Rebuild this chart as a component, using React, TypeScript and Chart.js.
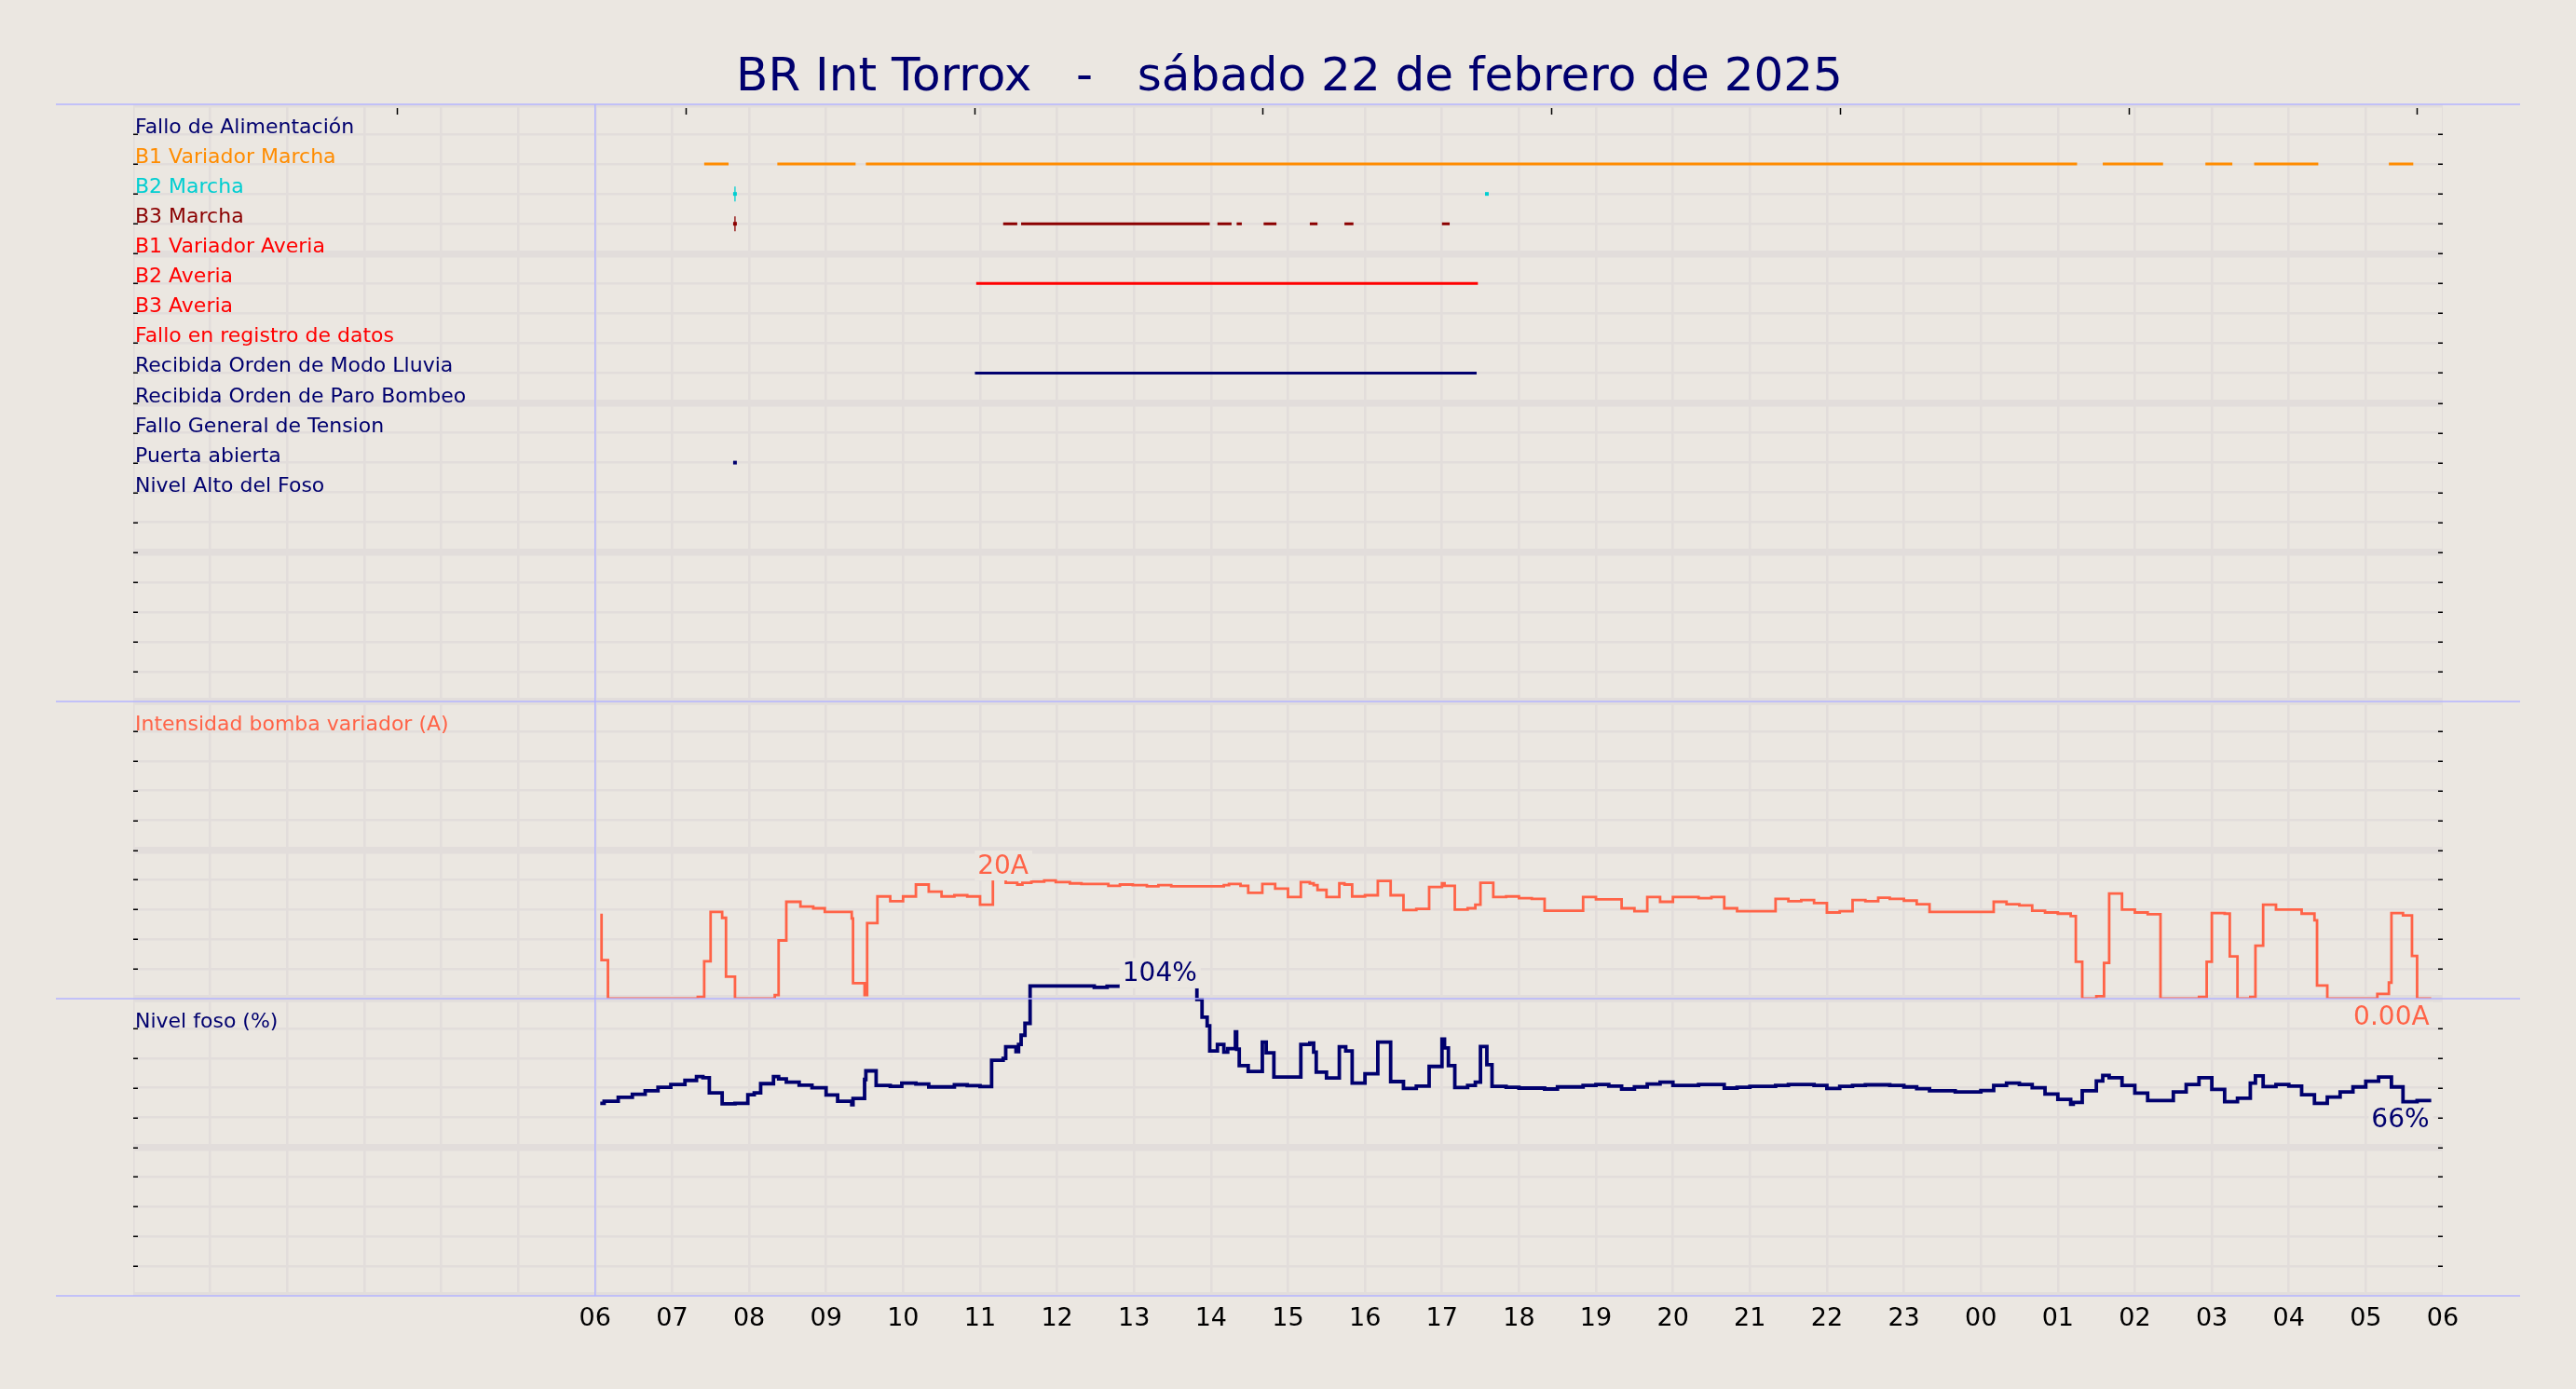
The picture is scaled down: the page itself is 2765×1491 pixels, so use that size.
import React, { useEffect, useRef } from "react";
import { Chart, registerables } from "chart.js";

Chart.register(...registerables);

const FONT = "'DejaVu Sans', 'Noto Sans', sans-serif";
const BG = "#ebe7e1";
const GRID = "#e2dddb";
const NAVY = "#00006e";
const TOMATO = "#ff6347";
const SEPARATOR = "#b4b4ff";

const TITLE_TEXT = "BR Int Torrox   -   sábado 22 de febrero de 2025";

// x axis in hours since 00:00 of the day; labels from 06 to 06 of the next day
const X_MIN_H = 0;
const X_MAX_H = 30;
const FIRST_LABEL_H = 6;
const DAY_START_H = 6;
const TOP_TICK_HOURS = [3.43, 7.18, 10.93, 14.67, 18.42, 22.17, 25.92, 29.66];

// ---- digital signals (rows of the top panel) ----
const SIGNAL_NAMES = [
  "Fallo de Alimentación",
  "B1 Variador Marcha",
  "B2 Marcha",
  "B3 Marcha",
  "B1 Variador Averia",
  "B2 Averia",
  "B3 Averia",
  "Fallo en registro de datos",
  "Recibida Orden de Modo Lluvia",
  "Recibida Orden de Paro Bombeo",
  "Fallo General de Tension",
  "Puerta abierta",
  "Nivel Alto del Foso",
];
const SIGNAL_COLORS = [
  NAVY, "#ff8c00", "#00ced1", "#8b0000", "#ff0000", "#ff0000", "#ff0000",
  "#ff0000", NAVY, NAVY, NAVY, NAVY, NAVY,
];
// "on" intervals, minutes since 00:00
const FALLO_ALIMENTACION_ON: number[][] = [];
const B1_VARIADOR_MARCHA_ON = [[445, 464], [502, 563], [571, 1515], [1535, 1582], [1615, 1636], [1653, 1703], [1758, 1777]];
const B2_MARCHA_ON: number[][] = [];
const B3_MARCHA_ON = [[678, 689], [692, 839], [845, 856], [860, 864], [881, 891], [917, 923], [944, 951], [1020, 1026]];
const B1_VARIADOR_AVERIA_ON: number[][] = [];
const B2_AVERIA_ON = [[657, 1048]];
const B3_AVERIA_ON: number[][] = [];
const FALLO_REGISTRO_ON: number[][] = [];
const MODO_LLUVIA_ON = [[656, 1047]];
const PARO_BOMBEO_ON: number[][] = [];
const FALLO_TENSION_ON: number[][] = [];
const PUERTA_ABIERTA_ON: number[][] = [];
const NIVEL_ALTO_ON: number[][] = [];
const SIGNAL_SEGMENTS = [
  FALLO_ALIMENTACION_ON, B1_VARIADOR_MARCHA_ON, B2_MARCHA_ON, B3_MARCHA_ON,
  B1_VARIADOR_AVERIA_ON, B2_AVERIA_ON, B3_AVERIA_ON, FALLO_REGISTRO_ON,
  MODO_LLUVIA_ON, PARO_BOMBEO_ON, FALLO_TENSION_ON, PUERTA_ABIERTA_ON, NIVEL_ALTO_ON,
];
// very short pulses (minutes)
const B2_MARCHA_PULSES = [469, 1055];
const B3_MARCHA_PULSES = [469];
const PUERTA_PULSES = [469];
const B2_MARCHA_EDGES = [469];
const B3_MARCHA_EDGES = [469];

// ---- intensity (A), stepped, minutes since 00:00 ----
const INTENSITY_MIN = [364, 365, 370, 440, 445, 450, 459, 462, 469, 500, 503, 509, 520, 530, 539, 560, 561, 570, 572, 580, 590, 600, 610, 620, 630, 640, 650, 660, 670, 680, 689, 693, 700, 710, 719, 730, 739, 760, 769, 779, 790, 799, 809, 850, 854, 863, 869, 880, 890, 900, 910, 917, 920, 923, 930, 940, 944, 950, 960, 970, 980, 990, 1000, 1010, 1020, 1022, 1030, 1040, 1046, 1050, 1060, 1070, 1080, 1090, 1100, 1130, 1140, 1160, 1170, 1180, 1190, 1200, 1220, 1230, 1240, 1250, 1280, 1290, 1300, 1310, 1320, 1330, 1340, 1350, 1360, 1369, 1380, 1390, 1400, 1450, 1460, 1470, 1480, 1490, 1500, 1510, 1514, 1519, 1530, 1536, 1540, 1550, 1560, 1570, 1580, 1610, 1616, 1620, 1630, 1634, 1640, 1650, 1654, 1660, 1670, 1690, 1700, 1702, 1710, 1749, 1758, 1760, 1769, 1776, 1780, 1791];
const INTENSITY_A = [14.1, 6.5, 0, 0.3, 6.3, 14.6, 13.6, 3.7, 0, 0.6, 9.8, 16.3, 15.5, 15.2, 14.6, 13.5, 2.6, 0.6, 12.7, 17.2, 16.4, 17.2, 19.2, 18.0, 17.2, 17.4, 17.2, 15.8, 20.2, 19.5, 19.2, 19.5, 19.7, 19.9, 19.6, 19.4, 19.3, 19.0, 19.2, 19.1, 18.9, 19.1, 18.9, 19.1, 19.3, 19.0, 17.8, 19.3, 18.5, 17.1, 19.6, 19.4, 19.1, 18.3, 17.1, 19.4, 19.2, 17.2, 17.4, 19.8, 17.4, 14.9, 15.1, 18.8, 19.4, 19.0, 15.0, 15.2, 15.8, 19.5, 17.1, 17.2, 16.9, 16.8, 14.8, 17.1, 16.7, 15.2, 14.7, 17.1, 16.3, 17.1, 16.9, 17.1, 15.2, 14.7, 16.8, 16.4, 16.6, 16.1, 14.5, 14.7, 16.6, 16.4, 17.0, 16.8, 16.5, 15.9, 14.6, 16.3, 15.9, 15.7, 14.8, 14.5, 14.3, 13.9, 6.2, 0, 0.4, 6.0, 17.7, 15.0, 14.5, 14.2, 0, 0.3, 6.2, 14.4, 14.3, 7.1, 0, 0.3, 8.9, 15.8, 15.0, 14.3, 13.2, 2.2, 0, 0.8, 2.7, 14.4, 14.0, 7.2, 0, 0];

// ---- pit level (%), stepped, minutes since 00:00 ----
const LEVEL_MIN = [364, 367, 378, 389, 399, 409, 419, 430, 439, 444, 449, 459, 469, 479, 484, 489, 499, 503, 509, 519, 529, 540, 549, 560, 561, 570, 571, 579, 590, 599, 610, 620, 640, 650, 660, 669, 678, 680, 688, 690, 692, 695, 699, 749, 759, 770, 790, 810, 829, 833, 837, 839, 845, 850, 853, 859, 860, 862, 869, 880, 883, 889, 910, 917, 920, 922, 930, 940, 945, 950, 960, 970, 980, 990, 1000, 1010, 1020, 1022, 1025, 1030, 1040, 1046, 1050, 1055, 1059, 1070, 1080, 1100, 1110, 1130, 1140, 1150, 1160, 1170, 1180, 1190, 1200, 1220, 1240, 1250, 1260, 1280, 1290, 1310, 1320, 1330, 1340, 1350, 1369, 1380, 1390, 1400, 1420, 1440, 1450, 1460, 1470, 1480, 1490, 1500, 1510, 1512, 1519, 1530, 1535, 1540, 1550, 1560, 1570, 1590, 1600, 1610, 1620, 1630, 1640, 1650, 1654, 1660, 1670, 1680, 1690, 1700, 1710, 1720, 1730, 1740, 1750, 1760, 1769, 1780, 1791];
const LEVEL_PCT = [64.8, 65.5, 66.8, 67.8, 69.0, 70.2, 71.1, 72.5, 73.8, 73.4, 68.3, 64.6, 64.8, 67.7, 68.3, 71.4, 73.8, 73.0, 71.9, 70.9, 70.0, 67.6, 65.5, 64.3, 66.4, 72.8, 75.7, 70.8, 70.5, 71.6, 71.3, 70.3, 71.0, 70.7, 70.4, 79.3, 79.9, 83.8, 82.2, 84.6, 87.7, 91.7, 104.3, 103.8, 104.2, 104.3, 104.4, 104.2, 99.7, 93.8, 90.9, 82.4, 84.6, 82.0, 83.2, 88.8, 83.0, 77.5, 75.5, 85.4, 81.8, 73.6, 84.6, 85.1, 82.0, 75.3, 73.3, 83.8, 82.4, 71.6, 74.7, 85.4, 72.1, 69.8, 70.6, 77.2, 86.4, 83.4, 77.5, 70.1, 70.8, 71.9, 83.9, 77.8, 70.5, 70.2, 69.9, 69.6, 70.3, 70.8, 71.1, 70.6, 69.6, 70.3, 71.3, 71.9, 70.8, 71.1, 69.9, 70.2, 70.5, 70.8, 71.1, 70.8, 69.8, 70.5, 70.8, 71.0, 70.8, 70.3, 69.7, 69.0, 68.6, 69.1, 70.8, 71.6, 71.1, 70.0, 67.9, 66.1, 64.5, 65.1, 69.0, 72.3, 74.2, 73.4, 70.8, 68.2, 65.7, 68.6, 71.1, 73.4, 69.5, 65.3, 66.5, 71.6, 74.0, 70.4, 71.1, 70.6, 67.7, 64.8, 66.9, 68.6, 70.3, 72.2, 73.6, 70.3, 65.3, 65.7, 65.7];

const INTENSITY_TITLE = "Intensidad bomba variador (A)";
const LEVEL_TITLE = "Nivel foso (%)";

const toH = (m: number) => m / 60;
const pad2 = (n: number) => String(n).padStart(2, "0");

function segmentData(segs: number[][], row: number) {
  const out: any[] = [];
  segs.forEach(([a, b]) => {
    out.push({ x: toH(a), y: row }, { x: toH(b), y: row }, { x: toH(b), y: null });
  });
  return out;
}

function buildDatasets() {
  const ds: any[] = [];
  SIGNAL_SEGMENTS.forEach((segs, i) => {
    ds.push({
      type: "line", label: SIGNAL_NAMES[i], yAxisID: "yTop", xAxisID: "x",
      data: segmentData(segs, i + 1), borderColor: SIGNAL_COLORS[i], borderWidth: 3,
      pointRadius: 0, spanGaps: false, borderCapStyle: "butt",
    });
  });
  const pulses = [
    { row: 3, list: B2_MARCHA_PULSES, color: SIGNAL_COLORS[2] },
    { row: 4, list: B3_MARCHA_PULSES, color: SIGNAL_COLORS[3] },
    { row: 12, list: PUERTA_PULSES, color: SIGNAL_COLORS[11] },
  ];
  pulses.forEach((p) => {
    ds.push({
      type: "line", yAxisID: "yTop", xAxisID: "x", showLine: false,
      data: p.list.map((m) => ({ x: toH(m), y: p.row })),
      pointStyle: "rect", pointRadius: 2.8, pointBackgroundColor: p.color, pointBorderWidth: 0,
    });
  });
  const edges = [
    { row: 3, list: B2_MARCHA_EDGES, color: SIGNAL_COLORS[2] },
    { row: 4, list: B3_MARCHA_EDGES, color: SIGNAL_COLORS[3] },
  ];
  edges.forEach((p) => {
    ds.push({
      type: "line", yAxisID: "yTop", xAxisID: "x", showLine: false,
      data: p.list.map((m) => ({ x: toH(m), y: p.row })),
      pointStyle: "line", rotation: 90, pointRadius: 8, pointBorderColor: p.color, pointBorderWidth: 1.3,
    });
  });
  ds.push({
    type: "line", label: INTENSITY_TITLE, yAxisID: "yMid", xAxisID: "x",
    data: INTENSITY_MIN.map((m, i) => ({ x: toH(m), y: INTENSITY_A[i] })),
    stepped: "before", borderColor: TOMATO, borderWidth: 2.8, pointRadius: 0,
    borderJoinStyle: "miter",
  });
  ds.push({
    type: "line", label: LEVEL_TITLE, yAxisID: "yBot", xAxisID: "x",
    data: LEVEL_MIN.map((m, i) => ({ x: toH(m), y: LEVEL_PCT[i] })),
    stepped: "before", borderColor: NAVY, borderWidth: 3.8, pointRadius: 0, clip: false,
    borderJoinStyle: "miter",
  });
  return ds;
}

function drawTag(ctx: CanvasRenderingContext2D, text: string, x: number, baseline: number, align: "center" | "right", color: string, below: number) {
  ctx.save();
  ctx.font = `28px ${FONT}`;
  const w = ctx.measureText(text).width;
  const left = align === "center" ? x - w / 2 : x - w;
  ctx.fillStyle = BG;
  ctx.fillRect(left - 3, baseline - 24.5, w + 7, 24.5 + below);
  ctx.fillStyle = color;
  ctx.textAlign = "left";
  ctx.textBaseline = "alphabetic";
  ctx.fillText(text, left, baseline);
  ctx.restore();
}

function maxStep(mins: number[], vals: number[]) {
  let k = 0;
  vals.forEach((v, i) => { if (v > vals[k]) k = i; });
  const next = k + 1 < mins.length ? mins[k + 1] : mins[k];
  return { start: mins[k], end: next, v: vals[k] };
}

const decorPlugin = {
  id: "decor",
  beforeDraw(chart: any) {
    const { ctx, chartArea: a } = chart;
    ctx.save();
    ctx.fillStyle = BG;
    ctx.fillRect(0, 0, chart.width, chart.height);
    ctx.restore();
    ctx.save();
    ctx.beginPath();
    ctx.rect(a.left, a.top, a.right - a.left, a.bottom - a.top);
    ctx.clip();
  },
  beforeDatasetsDraw(chart: any) {
    chart.ctx.restore();
  },
  afterDatasetsDraw(chart: any) {
    const { ctx, scales } = chart;
    const x = scales.x, yM = scales.yMid, yB = scales.yBot;
    const mi = maxStep(INTENSITY_MIN, INTENSITY_A);
    const miX = (x.getPixelForValue(toH(mi.start)) + x.getPixelForValue(toH(mi.end))) / 2 + 4;
    drawTag(ctx, `${Math.round(mi.v)}A`, miX, yM.getPixelForValue(mi.v) - 5.5, "center", TOMATO, 7.5);
    const ml = maxStep(LEVEL_MIN, LEVEL_PCT);
    const mlX = (x.getPixelForValue(toH(ml.start)) + x.getPixelForValue(toH(ml.end))) / 2;
    drawTag(ctx, `${Math.round(ml.v)}%`, mlX, yB.getPixelForValue(ml.v) - 5, "center", NAVY, 8);
    const li = INTENSITY_A.length - 1;
    drawTag(ctx, `${INTENSITY_A[li].toFixed(2)}A`, x.getPixelForValue(toH(INTENSITY_MIN[li])) - 2, yM.getPixelForValue(INTENSITY_A[li]) + 28, "right", TOMATO, 3);
    const ll = LEVEL_PCT.length - 1;
    drawTag(ctx, `${Math.round(LEVEL_PCT[ll])}%`, x.getPixelForValue(toH(LEVEL_MIN[ll])) - 2, yB.getPixelForValue(LEVEL_PCT[ll]) + 29, "right", NAVY, 3);
  },
  afterDraw(chart: any) {
    const { ctx, chartArea: a, scales } = chart;
    const x = scales.x, yT = scales.yTop, yM = scales.yMid, yB = scales.yBot;
    ctx.save();
    // title
    ctx.font = `50px ${FONT}`;
    ctx.fillStyle = NAVY;
    ctx.textAlign = "center";
    ctx.textBaseline = "alphabetic";
    ctx.fillText(TITLE_TEXT, 1384, 97);
    // row labels
    ctx.font = `22px ${FONT}`;
    ctx.textAlign = "left";
    SIGNAL_NAMES.forEach((n, i) => {
      ctx.fillStyle = SIGNAL_COLORS[i];
      ctx.fillText(n, a.left + 2, yT.getPixelForValue(i + 1) - 1);
    });
    ctx.fillStyle = TOMATO;
    ctx.fillText(INTENSITY_TITLE, a.left + 2, yM.getPixelForValue(45) - 0.5);
    ctx.fillStyle = NAVY;
    ctx.fillText(LEVEL_TITLE, a.left + 2, yB.getPixelForValue(90) - 0.5);
    // inward ticks on both sides
    ctx.strokeStyle = "#000";
    ctx.lineWidth = 1.5;
    [yT, yM, yB].forEach((s: any) => {
      s.ticks.forEach((t: any, i: number) => {
        if (i === 0 || i === s.ticks.length - 1) return;
        const py = Math.round(s.getPixelForValue(t.value)) + 0.25;
        ctx.beginPath();
        ctx.moveTo(a.left, py); ctx.lineTo(a.left + 5, py);
        ctx.moveTo(a.right - 5, py); ctx.lineTo(a.right, py);
        ctx.stroke();
      });
    });
    TOP_TICK_HOURS.forEach((hh) => {
      const px = Math.round(x.getPixelForValue(hh)) + 0.5;
      ctx.beginPath();
      ctx.moveTo(px, a.top + 4); ctx.lineTo(px, a.top + 11);
      ctx.stroke();
    });
    // separators
    ctx.strokeStyle = SEPARATOR;
    ctx.lineWidth = 1.5;
    [yT.top, yM.top, yB.top, yB.bottom].forEach((py: number) => {
      ctx.beginPath();
      ctx.moveTo(60, py); ctx.lineTo(2705, py);
      ctx.stroke();
    });
    const vx = x.getPixelForValue(DAY_START_H);
    ctx.beginPath();
    ctx.moveTo(vx, a.top); ctx.lineTo(vx, a.bottom);
    ctx.stroke();
    ctx.restore();
  },
};

function gridWidth(major: number) {
  return (c: any) => (c.tick && Math.abs(c.tick.value % major) < 1e-9 ? 7.5 : 2.5);
}

export default function App() {
  const ref = useRef<HTMLCanvasElement>(null);
  useEffect(() => {
    document.body.style.margin = "0";
    document.body.style.background = BG;
    document.body.style.overflow = "hidden";
    const chart = new Chart(ref.current as HTMLCanvasElement, {
      type: "line",
      data: { datasets: buildDatasets() },
      options: {
        responsive: false,
        animation: false,
        devicePixelRatio: 1,
        events: [],
        layout: { padding: { left: 143, right: 143, top: 112, bottom: 0 } },
        plugins: { legend: { display: false }, tooltip: { enabled: false }, title: { display: false } },
        scales: {
          x: {
            type: "linear", position: "bottom", min: X_MIN_H, max: X_MAX_H,
            ticks: {
              stepSize: 1, autoSkip: false, maxRotation: 0, minRotation: 0, padding: 9, z: 1,
              color: "#000", font: { family: FONT, size: 27 },
              callback: (v: any) => (Number(v) >= FIRST_LABEL_H ? pad2(Number(v) % 24) : ""),
            },
            grid: { color: GRID, lineWidth: 2.6, drawTicks: false },
            border: { display: false },
            afterFit: (s: any) => { s.height = 100; },
          },
          yTop: {
            type: "linear", position: "left", stack: "panels", stackWeight: 641, weight: 3,
            reverse: true, min: 0, max: 20,
            ticks: { stepSize: 1, display: false },
            grid: { color: GRID, lineWidth: gridWidth(5), drawTicks: false },
            border: { display: false },
            afterFit: (s: any) => { s.width = 0; },
          },
          yMid: {
            type: "linear", position: "left", stack: "panels", stackWeight: 319, weight: 2,
            min: 0, max: 50,
            ticks: { stepSize: 5, display: false },
            grid: { color: GRID, lineWidth: gridWidth(25), drawTicks: false },
            border: { display: false },
            afterFit: (s: any) => { s.width = 0; },
          },
          yBot: {
            type: "linear", position: "left", stack: "panels", stackWeight: 319, weight: 1,
            min: 0, max: 100,
            ticks: { stepSize: 10, display: false },
            grid: { color: GRID, lineWidth: gridWidth(50), drawTicks: false },
            border: { display: false },
            afterFit: (s: any) => { s.width = 0; },
          },
        },
      } as any,
      plugins: [decorPlugin],
    });
    return () => chart.destroy();
  }, []);
  return <canvas ref={ref} width={2765} height={1491} style={{ display: "block", width: 2765, height: 1491 }} />;
}
